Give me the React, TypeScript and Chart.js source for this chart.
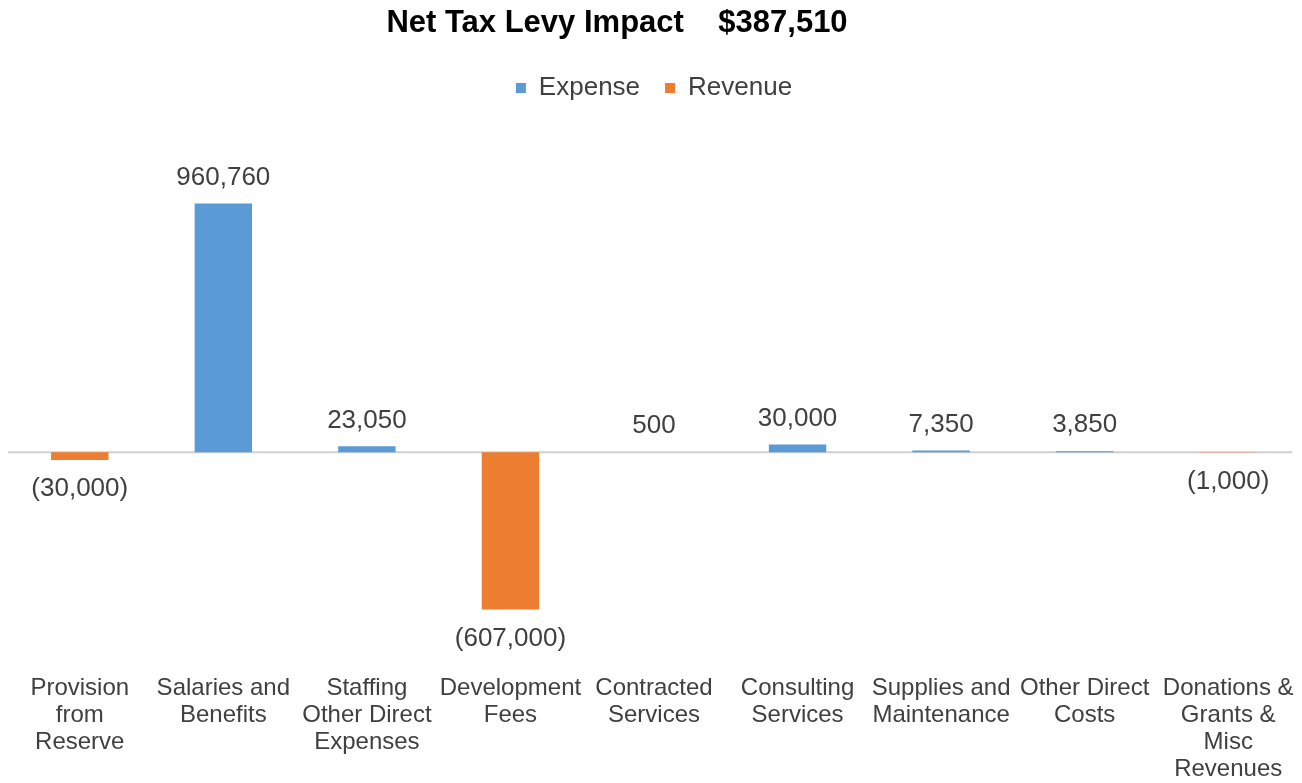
import React, { useEffect, useRef } from "react";
import { Chart, registerables } from "chart.js";

Chart.register(...registerables);

const TITLE = "Net Tax Levy Impact    $387,510";

const categories: string[][] = [
  ["Provision", "from", "Reserve"],
  ["Salaries and", "Benefits"],
  ["Staffing", "Other Direct", "Expenses"],
  ["Development", "Fees"],
  ["Contracted", "Services"],
  ["Consulting", "Services"],
  ["Supplies and", "Maintenance"],
  ["Other Direct", "Costs"],
  ["Donations &", "Grants &", "Misc", "Revenues"],
];

const expenseValues: (number | null)[] = [null, 960760, 23050, null, 500, 30000, 7350, 3850, null];
const revenueValues: (number | null)[] = [-30000, null, null, -607000, null, null, null, null, -1000];

const Y_MIN = -860000;
const Y_MAX = 1318000;

const BLUE = "#5B9BD5";
const ORANGE = "#ED7D31";
const TEXT = "#404040";
const FONT = "'Liberation Sans', Arial, sans-serif";

function fmt(v: number): string {
  const s = Math.abs(v).toLocaleString("en-US");
  return v < 0 ? `(${s})` : s;
}

const titlePlugin = {
  id: "customTitle",
  afterDraw(chart: any) {
    const ctx = chart.ctx;
    ctx.save();
    ctx.font = `bold 31px ${FONT}`;
    ctx.fillStyle = "#000000";
    ctx.textAlign = "center";
    ctx.textBaseline = "middle";
    ctx.fillText(TITLE, chart.width / 2 - 34, 23);
    ctx.restore();
  },
};

const zeroLinePlugin = {
  id: "zeroLine",
  beforeDatasetsDraw(chart: any) {
    const ctx = chart.ctx;
    const y = chart.scales.y.getPixelForValue(0);
    const { left, right } = chart.chartArea;
    ctx.save();
    ctx.strokeStyle = "#d0d0d0";
    ctx.lineWidth = 2;
    ctx.beginPath();
    ctx.moveTo(left, y);
    ctx.lineTo(right - 8, y);
    ctx.stroke();
    ctx.restore();
  },
};

const valueLabelPlugin = {
  id: "valueLabels",
  afterDatasetsDraw(chart: any) {
    const ctx = chart.ctx;
    ctx.save();
    ctx.font = `26px ${FONT}`;
    ctx.fillStyle = TEXT;
    ctx.textAlign = "center";
    ctx.textBaseline = "middle";
    chart.data.datasets.forEach((ds: any, di: number) => {
      const meta = chart.getDatasetMeta(di);
      meta.data.forEach((bar: any, i: number) => {
        const v = ds.data[i];
        if (v === null || v === undefined) return;
        const y = v >= 0 ? bar.y - 26 : bar.y + 29;
        ctx.fillText(fmt(v), bar.x, y);
      });
    });
    ctx.restore();
  },
};

export default function App() {
  const ref = useRef<HTMLCanvasElement | null>(null);

  useEffect(() => {
    document.body.style.margin = "0";
    if (!ref.current) return;
    Chart.defaults.font.family = FONT;
    const chart = new Chart(ref.current, {
      type: "bar",
      data: {
        labels: categories,
        datasets: [
          { label: "Expense", data: expenseValues, backgroundColor: BLUE, borderWidth: 0 },
          { label: "Revenue", data: revenueValues, backgroundColor: ORANGE, borderWidth: 0 },
        ],
      },
      options: {
        animation: false,
        responsive: false,
        maintainAspectRatio: false,
        layout: { padding: { top: 50, left: 8, right: 2, bottom: 0 } },
        datasets: { bar: { categoryPercentage: 1, barPercentage: 0.4 } },
        plugins: {
          title: { display: false },
          tooltip: { enabled: false },
          legend: {
            display: true,
            position: "top",
            labels: {
              boxWidth: 10,
              boxHeight: 10,
              padding: 25,
              color: TEXT,
              font: { size: 26, family: FONT },
            },
          },
        },
        scales: {
          x: {
            stacked: true,
            grid: { display: false, drawTicks: false },
            border: { display: false },
            ticks: {
              color: TEXT,
              padding: 0,
              maxRotation: 0,
              autoSkip: false,
              font: { size: 24, family: FONT, lineHeight: 27 / 24 },
            },
          },
          y: {
            stacked: true,
            display: false,
            min: Y_MIN,
            max: Y_MAX,
          },
        },
      },
      plugins: [titlePlugin, zeroLinePlugin, valueLabelPlugin],
    });
    return () => chart.destroy();
  }, []);

  return (
    <div style={{ width: 1302, height: 783 }}>
      <canvas ref={ref} width={1302} height={783} style={{ display: "block" }} />
    </div>
  );
}
